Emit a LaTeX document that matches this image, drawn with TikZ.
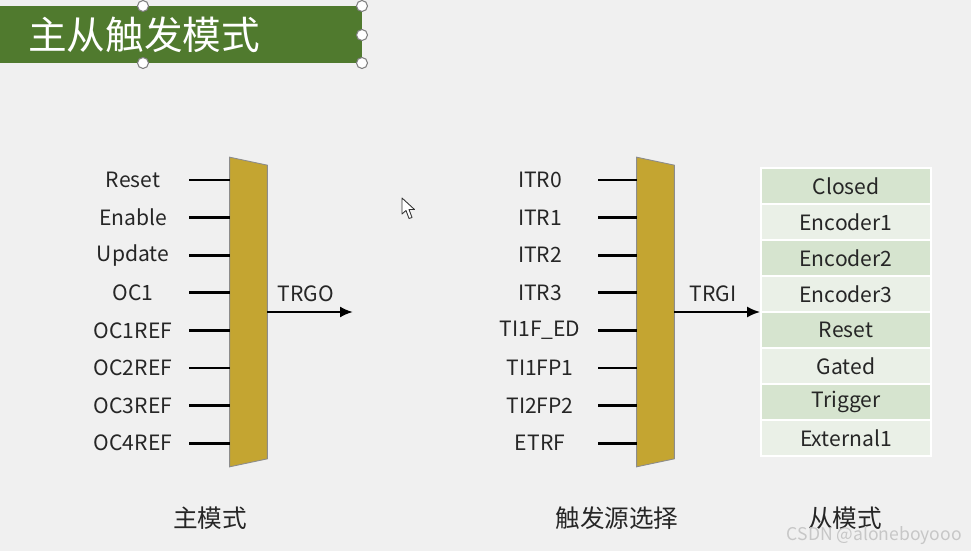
\documentclass[tikz,border=0pt]{standalone}
\usepackage{fontspec}
\setmainfont{Noto Sans CJK SC}
\usetikzlibrary{positioning,arrows.meta}
\definecolor{pagebg}{HTML}{F0F0F0}
\definecolor{titlegreen}{HTML}{507A2E}
\definecolor{muxgold}{HTML}{C4A531}
\definecolor{rowdark}{HTML}{D6E4CF}
\definecolor{rowlight}{HTML}{EAF0E7}
\definecolor{txt}{HTML}{262626}
\begin{document}
\begin{tikzpicture}[x=0.02cm,y=-0.02cm,text=txt,
  sig/.style={font=\fontsize{12}{14}\selectfont,inner sep=1pt},
  wire/.style={line width=1.6pt,black},
  arrow/.style={-{Latex[length=2.6mm,width=2.2mm]},line width=1.2pt,black},
  mux/.style={minimum width=0.74cm,minimum height=6.18cm,inner sep=0pt},
  muxfill/.style={fill=muxgold,draw=black!45,line width=0.5pt},
  moderow/.style={minimum width=3.4cm,minimum height=0.72cm,inner sep=0pt,draw=white,line width=1pt,font=\fontsize{12}{14}\selectfont},
  caption/.style={font=\fontsize{14}{16}\selectfont},
  handle/.style={fill=white,draw=black!50,line width=0.6pt}]
\fill[pagebg] (0,0) rectangle (971,551);
\useasboundingbox (0,0) rectangle (971,551);
% title bar with selection handles
\node[fill=titlegreen,anchor=north west,minimum width=7.24cm,minimum height=1.14cm,inner xsep=0.56cm,text width=6.12cm,align=left,text=white,font=\fontsize{22}{24}\selectfont] (title) at (0,6) {主从触发模式};
\foreach \p in {(143,6),(362,6),(362,35),(362,63),(143,63)}{\draw[handle] \p circle (0.11cm);}
% master mode
\node[mux] (mux1) at (248.5,312) {};
\draw[muxfill] (mux1.north west) -- ([yshift=-0.16cm]mux1.north east) -- ([yshift=0.16cm]mux1.south east) -- (mux1.south west) -- cycle;
\foreach \lab [count=\i from 0] in {Reset,Enable,Update,OC1,OC1REF,OC2REF,OC3REF,OC4REF}{
  \node[sig] (ms\i) at (133,{180+37.6*\i}) {\lab};
  \coordinate (mw\i) at (189,{180+37.6*\i});
  \draw[wire] (mw\i) -- (mw\i -| mux1.west);}
\coordinate (trgoend) at (353,312);
\draw[arrow] (mux1.east) -- (trgoend);
\node[sig] (trgo) at (306,294) {TRGO};
\node[caption] (master) at (210,518) {主模式};
% trigger source selection
\node[mux] (mux2) at (655.5,312) {};
\draw[muxfill] (mux2.north west) -- ([yshift=-0.16cm]mux2.north east) -- ([yshift=0.16cm]mux2.south east) -- (mux2.south west) -- cycle;
\foreach \lab [count=\i from 0] in {ITR0,ITR1,ITR2,ITR3,TI1F\_ED,TI1FP1,TI2FP2,ETRF}{
  \node[sig] (ts\i) at (540,{180+37.6*\i}) {\lab};
  \coordinate (tw\i) at (598,{180+37.6*\i});
  \draw[wire] (tw\i) -- (tw\i -| mux2.west);}
\node[caption] (source) at (617,518) {触发源选择};
% slave modes
\foreach \lab/\col [count=\i from 1] in {Closed/rowdark,Encoder1/rowlight,Encoder2/rowdark,Encoder3/rowlight,Reset/rowdark,Gated/rowlight,Trigger/rowdark,External1/rowlight}{
  \node[moderow,fill=\col] (m\i) at (846,{150+36*\i}) {\lab};}
\draw[arrow] (mux2.east) -- (mux2.east -| m4.west);
\node[sig] (trgi) at (713,294) {TRGI};
\node[caption] (slave) at (845,518) {从模式};
% mouse pointer
\draw[fill=white,draw=black!80,line width=0.5pt,line join=round] (402,198) -- (402,214) -- (406,210.5) -- (409,218.5) -- (412,217.5) -- (409,209.5) -- (414.5,209.5) -- cycle;
% watermark
\node[anchor=east,text=black!22,font=\fontsize{10}{12}\selectfont] (mark) at (968,536) {CSDN @aloneboyooo};
\end{tikzpicture}
\end{document}
